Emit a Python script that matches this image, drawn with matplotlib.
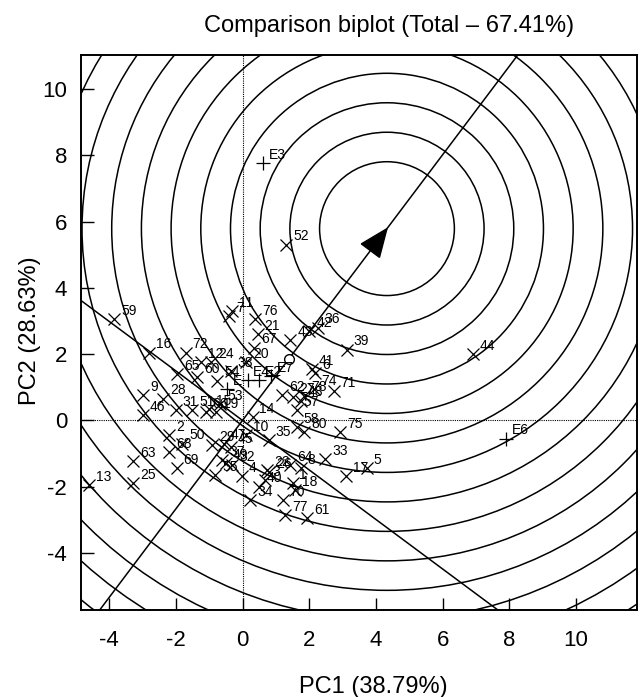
import numpy as np
import matplotlib
matplotlib.use("Agg")
import matplotlib.pyplot as plt
from matplotlib.patches import Circle, Polygon

plt.rcParams['font.family'] = ['Liberation Sans', 'DejaVu Sans']
plt.rcParams['axes.unicode_minus'] = False

# genotype scores (PC1, PC2)
gen_labels = ['59', '16', '72', '12', '24', '65', '60', '54', '38', '7', '11', '76',
              '21', '67', '20', '43', '42', '36', '39', '44', '41', '6', '71', '74',
              '62', '27', '48', '78', '57', '58', '80', '75', '14', '35', '10', '33',
              '5', '17', '64', '8', '22', '26', '3', '40', '1', '18', '70', '61', '77',
              '4', '34', '9', '28', '46', '31', '51', '66', '19', '53', '15', '2', '50',
              '68', '69', '63', '25', '13', '29', '47', '45', '37', '32', '55', '49', '52']
gen_x = [-3.85, -2.80, -1.70, -1.25, -0.95, -1.95, -1.35, -0.75, -0.35, -0.40, -0.30, 0.38,
         0.45, 0.35, 0.10, 1.43, 2.00, 2.25, 3.13, 6.90, 2.08, 2.18, 2.73, 2.15,
         1.18, 1.50, 1.75, 1.85, 1.63, 1.63, 1.85, 2.93, 0.30, 0.78, 0.10, 2.48,
         3.73, 3.11, 1.43, 1.75, 0.73, 0.80, 0.68, 0.50, 1.50, 1.58, 1.20, 1.93, 1.28,
         -0.02, 0.23, -2.98, -2.37, -2.98, -2.00, -1.50, -1.10, -0.80, -0.67, -1.00, -2.20, -1.80,
         -2.20, -1.97, -3.28, -3.28, -4.60, -0.90, -0.55, -0.35, -0.60, -0.30, -0.82, -0.50, 1.31]
gen_y = [3.05, 2.05, 2.05, 1.75, 1.75, 1.40, 1.30, 1.20, 1.50, 3.15, 3.30, 3.07,
         2.60, 2.20, 1.75, 2.42, 2.70, 2.80, 2.14, 2.00, 1.54, 1.42, 0.89, 0.95,
         0.76, 0.70, 0.60, 0.75, 0.30, -0.20, -0.35, -0.36, 0.10, -0.59, -0.45, -1.17,
         -1.44, -1.67, -1.34, -1.45, -1.50, -1.55, -1.79, -2.00, -1.90, -2.10, -2.40, -2.95, -2.85,
         -1.69, -2.40, 0.76, 0.66, 0.16, 0.30, 0.30, 0.25, 0.25, 0.50, 0.35, -0.45, -0.70,
         -0.95, -1.44, -1.24, -1.89, -1.95, -0.75, -0.70, -0.80, -1.20, -1.35, -1.64, -1.30, 5.31]

# environment scores
env_labels = ['E3', 'E6', 'E7', 'E4', 'E2', 'E']
env_x = [0.62, 7.90, 0.85, 0.15, 0.50, -0.45]
env_y = [7.78, -0.55, 1.35, 1.22, 1.22, 0.95]

# average environment and ideal genotype
avg_env = (1.38, 1.84)
ideal = (4.33, 5.79)
ring_step = 0.89
ring_offset = 0.24

fig = plt.figure(figsize=(6.43, 6.97), dpi=100)
ax = fig.add_axes([0.126, 0.125, 0.865, 0.796])
ax.set_xlim(-4.84, 11.83)
ax.set_ylim(-5.72, 11.03)

# concentric rings round the ideal genotype
for k in range(2, 20):
    r = ring_offset + ring_step * k
    ax.add_patch(Circle(ideal, r, fill=False, color='black', lw=1.1, zorder=1))

# axis through the origin and its perpendicular
slope = ideal[1] / ideal[0]
ax.axline((0, 0), slope=slope, color='black', lw=1.1, zorder=2)
ax.axline((0, 0), slope=-1 / slope, color='black', lw=1.1, zorder=2)

# arrow head at the ideal point
ang = np.arctan2(ideal[1], ideal[0])
d = np.array([np.cos(ang), np.sin(ang)])
n = np.array([-d[1], d[0]])
tip = np.array(ideal)
base = tip - 0.83 * d
tri = [tip, base + 0.34 * n, base - 0.34 * n]
ax.add_patch(Polygon(tri, closed=True, color='black', zorder=4))

ax.axhline(0, color='black', lw=0.8, ls=(0, (1, 1)), zorder=2)
ax.axvline(0, color='black', lw=0.8, ls=(0, (1, 1)), zorder=2)

ax.plot(avg_env[0], avg_env[1], 'o', mfc='white', mec='black', ms=7, mew=1.0, zorder=5)

ax.plot(gen_x, gen_y, 'x', color='black', ms=8.5, mew=0.9, zorder=3)
for lab, x, y in zip(gen_labels, gen_x, gen_y):
    ax.annotate(lab, (x, y), xytext=(5, 3), textcoords='offset points',
                fontsize=10, ha='left', va='baseline', zorder=6)

ax.plot(env_x, env_y, '+', color='black', ms=10, mew=0.9, zorder=3)
for lab, x, y in zip(env_labels, env_x, env_y):
    ax.annotate(lab, (x, y), xytext=(4, 3), textcoords='offset points',
                fontsize=10, ha='left', va='baseline', zorder=6)

ax.set_xticks([-4, -2, 0, 2, 4, 6, 8, 10])
ax.set_yticks([-4, -2, 0, 2, 4, 6, 8, 10])
ax.tick_params(direction='in', length=9, width=1, labelsize=16,
               top=False, right=False)
ax.tick_params(axis='x', pad=14.5)
ax.tick_params(axis='y', pad=10)
for s in ax.spines.values():
    s.set_linewidth(1.4)

fig.text(0.605, 0.954, 'Comparison biplot (Total \u2013 67.41%)', fontsize=17,
         ha='center', va='baseline')
fig.text(0.58, 0.015, 'PC1 (38.79%)', fontsize=17, ha='center', va='center')
fig.text(0.046, 0.525, 'PC2 (28.63%)', fontsize=17, ha='center', va='center',
         rotation=90)

fig.savefig('out.png', dpi=100)
